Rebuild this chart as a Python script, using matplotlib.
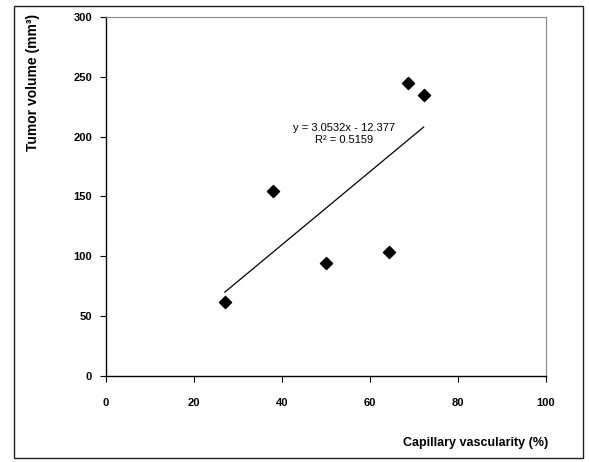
import matplotlib
matplotlib.use("Agg")
import matplotlib.pyplot as plt
from matplotlib.patches import Rectangle

plt.rcParams["font.family"] = ["Liberation Sans", "DejaVu Sans"]

# capillary vascularity (%) vs tumor volume (mm^3)
vascularity = [27.0, 38.0, 49.9, 64.4, 68.6, 72.2]
tumor_volume = [62, 155, 94.5, 103.5, 245, 235]
slope, intercept, r2 = 3.0532, -12.377, 0.5159

x_ticks = [0, 20, 40, 60, 80, 100]
y_ticks = [0, 50, 100, 150, 200, 250, 300]

fig = plt.figure(figsize=(5.89, 4.62), dpi=100)
W, H = 589, 462
ax = fig.add_axes([106 / W, 1 - 376 / H, 440 / W, 359 / H])

# outer frame around the whole chart
fig.patches.append(Rectangle((14 / W, 1 - 458 / H), 569 / W, 452 / H,
                             transform=fig.transFigure, fill=False,
                             edgecolor="#222222", linewidth=1.0))

ax.scatter(vascularity, tumor_volume, marker="D", s=38, color="black", zorder=3)
x0, x1 = min(vascularity), max(vascularity)
ax.plot([x0, x1], [slope * x0 + intercept, slope * x1 + intercept],
        color="black", linewidth=0.9)
ax.text(54, 202, f"y = {slope}x - {abs(intercept)}\nR² = {r2}",
        ha="center", va="center", fontsize=8, linespacing=1.25)

ax.set_xlim(0, 100)
ax.set_ylim(0, 300)
ax.set_xticks(x_ticks)
ax.set_yticks(y_ticks)
ax.tick_params(direction="out", length=4, width=0.8, labelsize=8, pad=6)
ax.tick_params(axis="x", pad=12)
for lab in ax.get_xticklabels() + ax.get_yticklabels():
    lab.set_fontweight("bold")
for side in ("top", "right"):
    ax.spines[side].set_color("#888888")
    ax.spines[side].set_linewidth(0.8)
for side in ("left", "bottom"):
    ax.spines[side].set_linewidth(1.0)

fig.text(33 / W, 1 - 14 / H, "Tumor volume (mm³)", rotation=90,
         ha="center", va="top", fontsize=10, fontweight="bold")
fig.text(548 / W, 1 - 443 / H, "Capillary vascularity (%)",
         ha="right", va="center", fontsize=9, fontweight="bold")

fig.savefig("out.png", dpi=100)
